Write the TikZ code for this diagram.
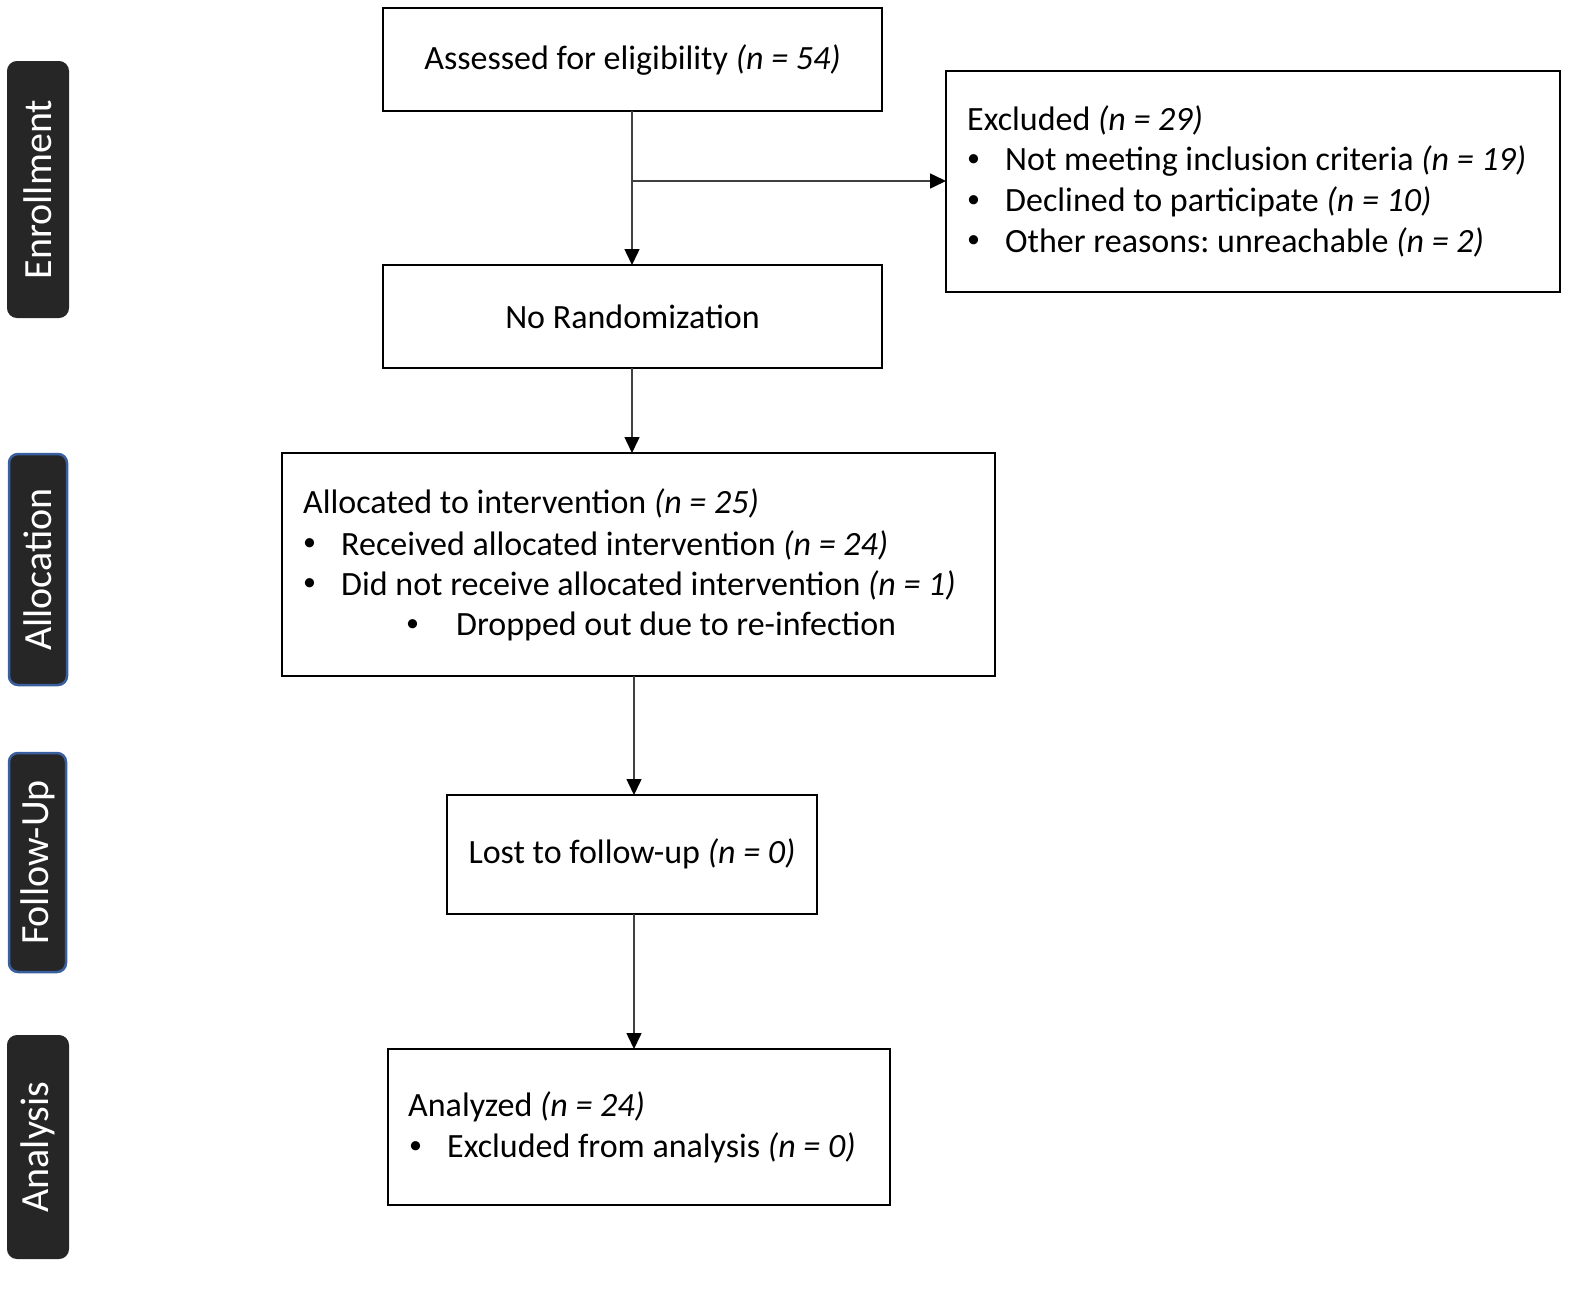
\documentclass[tikz,border=0pt]{standalone}
\usepackage{fontspec}
\setmainfont{Carlito}
\frenchspacing
\usetikzlibrary{arrows.meta}
\definecolor{sidebg}{HTML}{262626}
\definecolor{sideblue}{HTML}{3A5F9E}
\definecolor{linegray}{HTML}{404040}
\tikzset{
  box/.style={draw=black, line width=2pt, fill=white},
  side/.style={draw=sidebg, fill=sidebg, rounded corners=9pt, line width=2pt},
  sideb/.style={draw=sideblue, fill=sidebg, rounded corners=9pt, line width=2.5pt},
  sidetxt/.style={text=white, rotate=90, font=\fontsize{40}{48}\selectfont, inner sep=0pt},
  txt/.style={font=\fontsize{34}{41}\selectfont, inner sep=0pt, anchor=west},
  bul/.style={font=\fontsize{26}{30}\selectfont, inner sep=0pt, anchor=west},
  ctxt/.style={font=\fontsize{34}{41}\selectfont, inner sep=0pt},
  arr/.style={draw=linegray, line width=1.5pt, -{Triangle[length=16pt,width=15pt,fill=black,color=black]}},
}
\newcommand{\nn}[1]{\textit{(n = #1)}}
\begin{document}
\begin{tikzpicture}[x=1pt,y=-1pt]
\useasboundingbox (0,0) rectangle (1595,1288);
% side labels
\draw[side] (8,62) rectangle (68,317);
\node[sidetxt] (enr) at (38,189.5) {Enrollment};
\draw[sideb] (9,454) rectangle (67,685);
\node[sidetxt] (alo) at (38,569.5) {Allocation};
\draw[sideb] (9,753) rectangle (66,972);
\node[sidetxt] (fol) at (37.5,862.5) {Follow-Up};
\draw[side] (8,1036) rectangle (68,1258);
\node[sidetxt] (ana) at (38,1147) {Analysis};
% boxes
\draw[box] (383,8) rectangle (882,111);
\node[ctxt] (assessed) at (632.5,60) {Assessed for eligibility \nn{54}};
\draw[box] (946,71) rectangle (1560,292);
\node[txt] (ex0) at (967,120) {Excluded \nn{29}};
\node[bul] (exb1) at (967,161) {•};
\node[txt] (ex1) at (1005,161) {Not meeting inclusion criteria \nn{19}};
\node[bul] (exb2) at (967,202) {•};
\node[txt] (ex2) at (1005,202) {Declined to participate \nn{10}};
\node[bul] (exb3) at (967,242) {•};
\node[txt] (ex3) at (1005,242) {Other reasons: unreachable \nn{2}};
\draw[box] (383,265) rectangle (882,368);
\node[ctxt] (norand) at (632.5,317) {No Randomization};
\draw[box] (282,453) rectangle (995,676);
\node[txt] (al0) at (303,503) {Allocated to intervention \nn{25}};
\node[bul] (alb1) at (303,545) {•};
\node[txt] (al1) at (341,545) {Received allocated intervention \nn{24}};
\node[bul] (alb2) at (303,585) {•};
\node[txt] (al2) at (341,585) {Did not receive allocated intervention \nn{1}};
\node[bul] (alb3) at (406,626) {•};
\node[txt] (al3) at (456,626) {Dropped out due to re-infection};
\draw[box] (447,795) rectangle (817,914);
\node[ctxt] (lost) at (632,854) {Lost to follow-up \nn{0}};
\draw[box] (388,1049) rectangle (890,1205);
\node[txt] (an0) at (408,1107) {Analyzed \nn{24}};
\node[bul] (anb1) at (409,1148) {•};
\node[txt] (an1) at (447,1148) {Excluded from analysis \nn{0}};
% connectors
\coordinate (a1) at (632,111);
\coordinate (a2) at (632,265);
\coordinate (br) at (632,181);
\coordinate (exl) at (946,181);
\coordinate (b1) at (632,368);
\coordinate (b2) at (632,453);
\coordinate (c1) at (634,676);
\coordinate (c2) at (634,795);
\coordinate (d1) at (634,914);
\coordinate (d2) at (634,1049);
\draw[arr] (a1) -- (a2);
\draw[arr] (br) -- (exl);
\draw[arr] (b1) -- (b2);
\draw[arr] (c1) -- (c2);
\draw[arr] (d1) -- (d2);
\end{tikzpicture}
\end{document}
